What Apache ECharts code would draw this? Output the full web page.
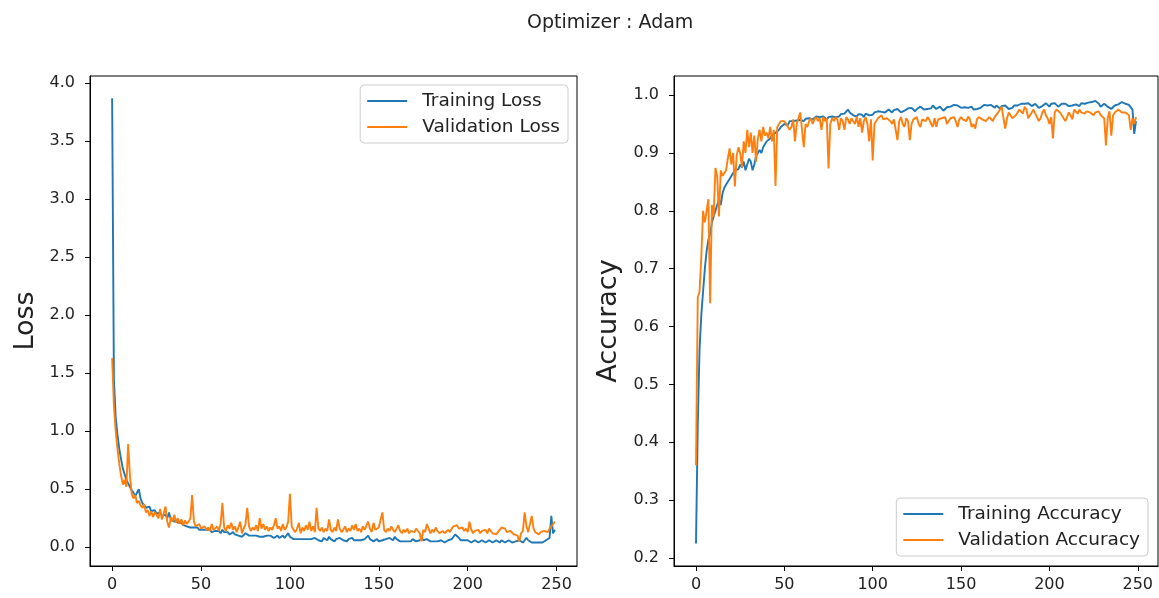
<!DOCTYPE html>
<html>
<head>
<meta charset="utf-8">
<script src="https://cdn.jsdelivr.net/npm/echarts@6/dist/echarts.min.js"></script>
<style>
  html, body { margin: 0; padding: 0; background: #fff; }
  #main { width: 1159px; height: 598px; }
</style>
</head>
<body>
<div id="main"></div>
<script>
"use strict";
// values, one per epoch (0..249)
var trainLoss = [
  3.87, 1.45, 1.12, 0.97, 0.85, 0.76, 0.68, 0.63, 0.58, 0.55,
  0.52, 0.49, 0.47, 0.44, 0.43, 0.50, 0.42, 0.38, 0.36, 0.34,
  0.33, 0.35, 0.31, 0.30, 0.32, 0.29, 0.28, 0.30, 0.27, 0.26,
  0.28, 0.25, 0.30, 0.24, 0.23, 0.22, 0.24, 0.21, 0.20, 0.21,
  0.19, 0.20, 0.18, 0.19, 0.17, 0.18, 0.17, 0.16, 0.17, 0.15,
  0.16, 0.15, 0.14, 0.15, 0.14, 0.15, 0.13, 0.14, 0.14, 0.13,
  0.14, 0.12, 0.15, 0.13, 0.12, 0.13, 0.11, 0.12, 0.13, 0.11,
  0.12, 0.10, 0.11, 0.09, 0.10, 0.12, 0.11, 0.10, 0.11, 0.10,
  0.09, 0.10, 0.11, 0.09, 0.10, 0.09, 0.08, 0.10, 0.09, 0.10,
  0.09, 0.08, 0.09, 0.10, 0.08, 0.09, 0.10, 0.08, 0.09, 0.12,
  0.09, 0.08, 0.07, 0.08, 0.07, 0.06, 0.07, 0.08, 0.07, 0.06,
  0.07, 0.08, 0.07, 0.06, 0.08, 0.07, 0.06, 0.07, 0.05, 0.08,
  0.07, 0.06, 0.09, 0.07, 0.06, 0.05, 0.07, 0.06, 0.08, 0.07,
  0.06, 0.07, 0.05, 0.07, 0.06, 0.08, 0.06, 0.05, 0.06, 0.07,
  0.06, 0.05, 0.07, 0.06, 0.10, 0.07, 0.06, 0.05, 0.06, 0.07,
  0.05, 0.04, 0.06, 0.05, 0.07, 0.06, 0.08, 0.07, 0.06, 0.09,
  0.07, 0.06, 0.05, 0.06, 0.05, 0.04, 0.05, 0.06, 0.05, 0.07,
  0.06, 0.05, 0.04, 0.06, 0.08, 0.06, 0.05, 0.07, 0.06, 0.05,
  0.04, 0.05, 0.06, 0.05, 0.04, 0.06, 0.05, 0.04, 0.05, 0.06,
  0.05, 0.07, 0.09, 0.11, 0.10, 0.08, 0.06, 0.05, 0.06, 0.05,
  0.06, 0.05, 0.04, 0.05, 0.06, 0.05, 0.04, 0.05, 0.06, 0.05,
  0.04, 0.05, 0.06, 0.05, 0.04, 0.05, 0.06, 0.05, 0.04, 0.06,
  0.05, 0.04, 0.05, 0.06, 0.05, 0.04, 0.03, 0.05, 0.04, 0.06,
  0.05, 0.04, 0.06, 0.08, 0.06, 0.05, 0.04, 0.05, 0.04, 0.03,
  0.04, 0.05, 0.04, 0.05, 0.06, 0.05, 0.08, 0.27, 0.12, 0.15
];
var valLoss = [
  1.63, 1.22, 1.00, 0.85, 0.72, 0.62, 0.54, 0.58, 0.52, 0.89,
  0.62, 0.46, 0.42, 0.45, 0.38, 0.40, 0.36, 0.34, 0.37, 0.30,
  0.32, 0.27, 0.31, 0.26, 0.30, 0.28, 0.25, 0.33, 0.24, 0.29,
  0.35, 0.22, 0.17, 0.26, 0.22, 0.28, 0.21, 0.25, 0.20, 0.24,
  0.19, 0.23, 0.20, 0.22, 0.25, 0.45, 0.22, 0.18, 0.17, 0.20,
  0.16, 0.15, 0.18, 0.15, 0.17, 0.14, 0.20, 0.15, 0.16, 0.18,
  0.14, 0.20, 0.38, 0.17, 0.14, 0.19, 0.16, 0.21, 0.15, 0.18,
  0.13, 0.17, 0.22, 0.12, 0.16, 0.20, 0.34, 0.18, 0.14, 0.17,
  0.15, 0.19, 0.14, 0.25, 0.16, 0.20, 0.15, 0.18, 0.14, 0.17,
  0.15, 0.19, 0.25, 0.16, 0.18, 0.14, 0.20, 0.15, 0.17, 0.22,
  0.46, 0.18, 0.15, 0.13, 0.16, 0.21, 0.12, 0.17, 0.14, 0.19,
  0.15, 0.22, 0.14, 0.18, 0.13, 0.34, 0.16, 0.14, 0.17, 0.13,
  0.16, 0.14, 0.24, 0.15, 0.13, 0.17, 0.14, 0.24, 0.16, 0.13,
  0.15, 0.18, 0.13, 0.16, 0.14, 0.19, 0.15, 0.20, 0.14, 0.16,
  0.13, 0.18, 0.15, 0.14, 0.22, 0.16, 0.13, 0.21, 0.15, 0.14,
  0.17, 0.24, 0.30, 0.15, 0.13, 0.16, 0.14, 0.18, 0.15, 0.13,
  0.16, 0.19, 0.14, 0.12, 0.15, 0.13, 0.16, 0.12, 0.14, 0.15,
  0.13, 0.16, 0.14, 0.12, 0.05, 0.15, 0.13, 0.20, 0.16, 0.12,
  0.15, 0.13, 0.17, 0.14, 0.12, 0.11, 0.14, 0.12, 0.13, 0.15,
  0.13, 0.16, 0.18, 0.17, 0.19, 0.16, 0.15, 0.17, 0.14, 0.16,
  0.13, 0.22, 0.15, 0.12, 0.14, 0.13, 0.15, 0.12, 0.14, 0.13,
  0.15, 0.12, 0.16, 0.14, 0.12, 0.13, 0.11, 0.13, 0.15, 0.17,
  0.18, 0.16, 0.13, 0.12, 0.14, 0.13, 0.11, 0.12, 0.10, 0.05,
  0.12, 0.14, 0.30, 0.18, 0.13, 0.12, 0.27, 0.16, 0.13, 0.12,
  0.11, 0.13, 0.12, 0.14, 0.15, 0.13, 0.16, 0.18, 0.20, 0.22
];
var trainAcc = [
  0.225, 0.43, 0.56, 0.62, 0.66, 0.70, 0.73, 0.75, 0.76, 0.78,
  0.79, 0.80, 0.81, 0.82, 0.81, 0.83, 0.84, 0.845, 0.85, 0.855,
  0.86, 0.865, 0.87, 0.868, 0.872, 0.88, 0.875, 0.885, 0.87, 0.88,
  0.89, 0.885, 0.87, 0.88, 0.895, 0.90, 0.905, 0.90, 0.91, 0.915,
  0.92, 0.918, 0.925, 0.93, 0.928, 0.935, 0.932, 0.94, 0.945, 0.948,
  0.95, 0.952, 0.948, 0.955, 0.953, 0.955, 0.958, 0.956, 0.955, 0.957,
  0.958, 0.955, 0.959, 0.957, 0.960, 0.962, 0.958, 0.961, 0.963, 0.96,
  0.962, 0.965, 0.963, 0.96, 0.958, 0.962, 0.964, 0.963, 0.966, 0.962,
  0.965, 0.963, 0.967, 0.965, 0.968, 0.966, 0.975, 0.97, 0.967, 0.965,
  0.966, 0.963, 0.967, 0.969, 0.966, 0.962, 0.968, 0.97, 0.965, 0.968,
  0.966, 0.97, 0.968, 0.972, 0.969, 0.971, 0.973, 0.97, 0.968, 0.975,
  0.972, 0.97, 0.974, 0.971, 0.976, 0.973, 0.97, 0.968, 0.973, 0.975,
  0.977, 0.974, 0.978, 0.975, 0.972, 0.976, 0.978, 0.98, 0.977, 0.975,
  0.978, 0.976, 0.974, 0.977, 0.982, 0.979, 0.976, 0.978, 0.98, 0.977,
  0.973, 0.976, 0.979, 0.982, 0.98, 0.978, 0.983, 0.985, 0.982, 0.98,
  0.978, 0.976, 0.979, 0.981, 0.978, 0.976, 0.98, 0.975, 0.978, 0.976,
  0.974, 0.978, 0.981, 0.983, 0.98, 0.982, 0.985, 0.983, 0.98, 0.978,
  0.982, 0.979, 0.977, 0.981, 0.984, 0.982, 0.98, 0.976, 0.975, 0.978,
  0.982, 0.984, 0.982, 0.979, 0.985, 0.987, 0.985, 0.983, 0.986, 0.984,
  0.981, 0.983, 0.985, 0.982, 0.978, 0.976, 0.981, 0.984, 0.986, 0.983,
  0.98, 0.985, 0.983, 0.986, 0.984, 0.98, 0.982, 0.985, 0.987, 0.985,
  0.983, 0.981, 0.984, 0.982, 0.985, 0.984, 0.983, 0.981, 0.986, 0.984,
  0.985, 0.983, 0.987, 0.985, 0.988, 0.986, 0.99, 0.987, 0.985, 0.98,
  0.983, 0.985, 0.982, 0.98, 0.978, 0.976, 0.979, 0.982, 0.985, 0.984,
  0.986, 0.988, 0.987, 0.985, 0.986, 0.983, 0.98, 0.975, 0.933, 0.955
];
var valAcc = [
  0.36, 0.65, 0.66, 0.72, 0.80, 0.78, 0.80, 0.82, 0.64, 0.81,
  0.79, 0.874, 0.86, 0.79, 0.87, 0.86, 0.865, 0.87, 0.89, 0.908,
  0.88, 0.90, 0.842, 0.895, 0.91, 0.90, 0.875, 0.92, 0.90, 0.94,
  0.91, 0.935, 0.90, 0.93, 0.885, 0.925, 0.94, 0.92, 0.945, 0.93,
  0.935, 0.925, 0.945, 0.92, 0.94, 0.843, 0.945, 0.95, 0.955, 0.952,
  0.955, 0.95, 0.953, 0.94, 0.945, 0.958, 0.92, 0.95, 0.96, 0.97,
  0.94, 0.91, 0.95, 0.945, 0.955, 0.96, 0.95, 0.958, 0.962, 0.955,
  0.96, 0.94, 0.962, 0.955, 0.96, 0.873, 0.95, 0.96, 0.955, 0.962,
  0.958, 0.94, 0.96, 0.955, 0.94, 0.962, 0.958, 0.95, 0.96, 0.955,
  0.95, 0.963, 0.945, 0.96, 0.935, 0.955, 0.962, 0.95, 0.92, 0.958,
  0.887, 0.95, 0.955, 0.96, 0.962, 0.965, 0.958, 0.955, 0.96, 0.962,
  0.955, 0.95, 0.958, 0.94, 0.922, 0.955, 0.962, 0.95, 0.945, 0.96,
  0.955, 0.922, 0.95, 0.958, 0.955, 0.962, 0.95, 0.945, 0.958, 0.96,
  0.955, 0.962, 0.958, 0.95, 0.945, 0.96, 0.945, 0.958, 0.955, 0.96,
  0.958, 0.962, 0.95, 0.955, 0.96, 0.958, 0.962, 0.955, 0.945, 0.958,
  0.962, 0.958, 0.96, 0.955, 0.963, 0.958, 0.945, 0.95, 0.942, 0.958,
  0.962, 0.965, 0.958, 0.96, 0.955, 0.958, 0.962, 0.96, 0.955, 0.962,
  0.965, 0.97, 0.975, 0.98, 0.96, 0.942, 0.96, 0.97, 0.965, 0.96,
  0.962, 0.965, 0.97, 0.975, 0.972, 0.968, 0.98, 0.975, 0.96, 0.965,
  0.97, 0.975, 0.968, 0.962, 0.955, 0.96, 0.97, 0.975, 0.965, 0.96,
  0.95, 0.962, 0.925, 0.97, 0.975, 0.978, 0.97, 0.965, 0.96, 0.955,
  0.962, 0.97, 0.965, 0.958, 0.975, 0.972, 0.968, 0.975, 0.97, 0.972,
  0.968, 0.972, 0.975, 0.97, 0.973, 0.965, 0.97, 0.968, 0.972, 0.965,
  0.962, 0.96, 0.913, 0.96, 0.972, 0.93, 0.965, 0.97, 0.972, 0.975,
  0.973, 0.97, 0.968, 0.97, 0.972, 0.965, 0.94, 0.96, 0.95, 0.962
];
var xTicks = [0, 50, 100, 150, 200, 250];
var lossTicks = [0.0, 0.5, 1.0, 1.5, 2.0, 2.5, 3.0, 3.5, 4.0];
var accTicks = [0.2, 0.3, 0.4, 0.5, 0.6, 0.7, 0.8, 0.9, 1.0];

var BLUE = '#1f77b4', ORANGE = '#ff7f0e', INK = '#222';
var FONT = 'DejaVu Sans';

function pairs(arr) {
  return arr.map(function (v, i) { return [i, v]; });
}

function xAxisFor(idx) {
  return {
    type: 'value', gridIndex: idx, min: -12.45, max: 261.45,
    axisLine: { onZero: false, lineStyle: { color: '#000', width: 1 } },
    axisTick: { customValues: xTicks, length: 5, lineStyle: { color: '#000' } },
    axisLabel: { customValues: xTicks, color: INK, fontSize: 16, fontFamily: FONT, margin: 11 },
    splitLine: { show: false }
  };
}

function yAxisFor(idx, name, min, max, ticks, gap) {
  return {
    type: 'value', gridIndex: idx, min: min, max: max,
    name: name, nameLocation: 'middle', nameGap: gap, nameRotate: 90,
    nameTextStyle: { color: INK, fontSize: 27, fontFamily: FONT },
    axisLine: { show: true, onZero: false, lineStyle: { color: '#000', width: 1 } },
    axisTick: { show: true, customValues: ticks, length: 5, lineStyle: { color: '#000' } },
    axisLabel: {
      customValues: ticks, color: INK, fontSize: 16, fontFamily: FONT, margin: 15,
      formatter: function (v) { return v.toFixed(1); }
    },
    splitLine: { show: false }
  };
}

function lineSeries(name, arr, color, idx) {
  return {
    name: name, type: 'line', xAxisIndex: idx, yAxisIndex: idx,
    data: pairs(arr), showSymbol: false, symbol: 'none',
    lineStyle: { color: color, width: 1.9 }, itemStyle: { color: color }
  };
}

var legendBase = {
  orient: 'vertical', icon: 'rect', itemWidth: 40, itemHeight: 2, itemGap: 6,
  padding: [6, 8, 6, 7], borderColor: '#ccc', borderWidth: 1, borderRadius: 4,
  backgroundColor: 'rgba(255,255,255,0.8)',
  textStyle: { color: INK, fontSize: 18.5, fontFamily: FONT, lineHeight: 20, padding: [0, 0, 0, 10] }
};

var chart = echarts.init(document.getElementById('main'));
chart.setOption({
  animation: false,
  backgroundColor: '#fff',
  title: {
    text: 'Optimizer : Adam', left: 522, top: 9,
    textStyle: { color: INK, fontSize: 19, fontWeight: 'normal', fontFamily: FONT }
  },
  grid: [
    { left: 90, top: 76, width: 487, height: 490, show: true, borderColor: '#000', borderWidth: 1 },
    { left: 674, top: 76, width: 484, height: 490, show: true, borderColor: '#000', borderWidth: 1 }
  ],
  xAxis: [xAxisFor(0), xAxisFor(1)],
  yAxis: [
    yAxisFor(0, 'Loss', -0.162, 4.062, lossTicks, 51),
    yAxisFor(1, 'Accuracy', 0.186, 1.033, accTicks, 52)
  ],
  legend: [
    Object.assign({}, legendBase, { data: ['Training Loss', 'Validation Loss'], right: 591, top: 85 }),
    Object.assign({}, legendBase, { data: ['Training Accuracy', 'Validation Accuracy'], right: 11, bottom: 42 })
  ],
  series: [
    lineSeries('Training Loss', trainLoss, BLUE, 0),
    lineSeries('Validation Loss', valLoss, ORANGE, 0),
    lineSeries('Training Accuracy', trainAcc, BLUE, 1),
    lineSeries('Validation Accuracy', valAcc, ORANGE, 1)
  ]
});
</script>
</body>
</html>
